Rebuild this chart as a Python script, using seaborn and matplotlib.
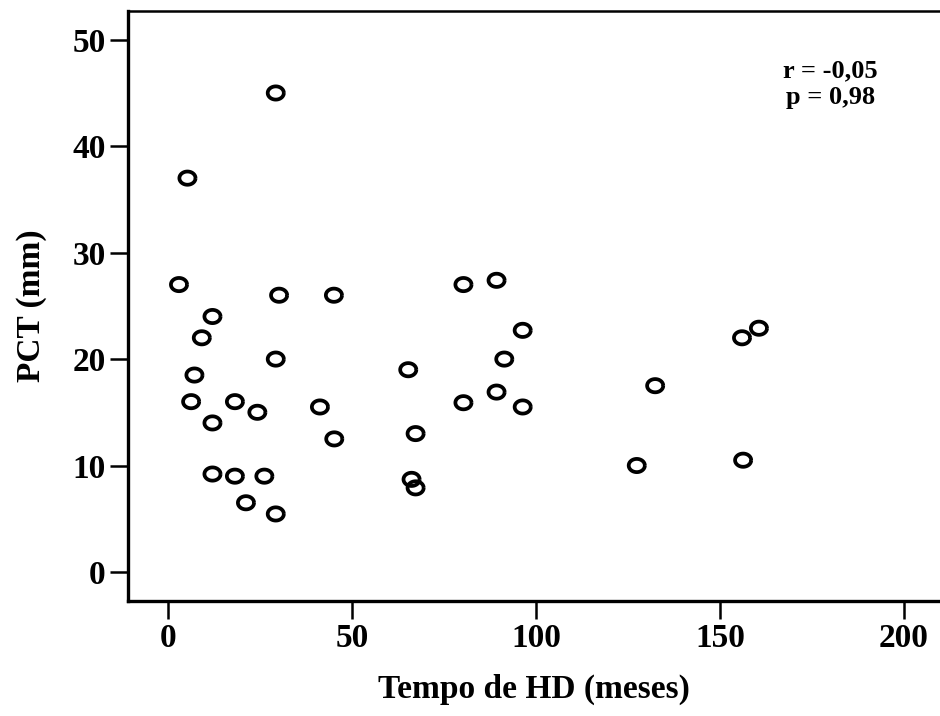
#!/usr/bin/env python3
"""
PCT vs tempo de HD scatter (SPSS-style open circles)
"""

import numpy as np
import pandas as pd
import matplotlib
matplotlib.use("Agg")
import matplotlib.pyplot as plt
import seaborn as sns

# values
tempo_hd = [29.3, 5.3, 3.0, 30.2, 45.1, 80.3, 89.3, 12.1, 96.4, 9.2,
            156.0, 160.6, 29.3, 91.4, 7.2, 65.3, 132.4, 6.3, 18.2, 24.3,
            41.3, 80.3, 89.3, 96.4, 12.1, 45.2, 67.3, 12.1, 18.2, 26.2,
            21.2, 29.3, 66.2, 67.3, 127.4, 156.3]
pct_mm = [45.0, 37.0, 27.0, 26.0, 26.0, 27.0, 27.4, 24.0, 22.7, 22.0,
          22.0, 22.9, 20.0, 20.0, 18.5, 19.0, 17.5, 16.0, 16.0, 15.0,
          15.5, 15.9, 16.9, 15.5, 14.0, 12.5, 13.0, 9.2, 9.0, 9.0,
          6.5, 5.45, 8.7, 7.9, 10.0, 10.5]

x_ticks = [0, 50, 100, 150, 200]
y_ticks = [0, 10, 20, 30, 40, 50]
stats_text = "r = -0,05\np = 0,98"


def main():
    sns.set_style("ticks")
    plt.rcParams['font.family'] = ['Liberation Serif', 'DejaVu Serif']
    plt.rcParams['font.weight'] = 'bold'

    df = pd.DataFrame({'tempo': tempo_hd, 'pct': pct_mm})

    fig = plt.figure(figsize=(9.4, 7.16), dpi=100)
    ax = fig.add_axes([0.136, 0.1606, 0.864, 0.824])

    # slightly wide ellipse, like the stretched original
    t = np.linspace(0, 2 * np.pi, 41)
    ellipse = list(zip(np.cos(t), 0.82 * np.sin(t)))

    sns.scatterplot(data=df, x='tempo', y='pct', ax=ax, marker=ellipse,
                    s=135, facecolor='none', edgecolor='black',
                    linewidth=2.7, zorder=3)

    ax.set_xlim(-10.9, 209.8)
    ax.set_ylim(-2.73, 52.7)
    ax.set_xticks(x_ticks)
    ax.set_yticks(y_ticks)
    ax.tick_params(axis='both', direction='out', length=13, width=1.8,
                   colors='black', labelsize=24, pad=3)
    for lbl in ax.get_xticklabels() + ax.get_yticklabels():
        lbl.set_fontweight('bold')

    ax.spines['left'].set_linewidth(2.4)
    ax.spines['bottom'].set_linewidth(2.4)
    ax.spines['top'].set_linewidth(1.8)
    ax.spines['right'].set_visible(False)
    for side in ['left', 'bottom', 'top']:
        ax.spines[side].set_color('black')

    ax.set_xlabel('Tempo de HD (meses)', fontsize=24, fontweight='bold',
                  color='black', labelpad=14)
    ax.set_ylabel('PCT (mm)', fontsize=24, fontweight='bold',
                  color='black', labelpad=18)

    ax.text(0.865, 0.876, stats_text, transform=ax.transAxes, ha='center',
            va='center', fontsize=19, fontweight='bold', color='black',
            linespacing=1.2)

    fig.savefig('out.png', dpi=100)
    plt.close('all')


if __name__ == "__main__":
    main()
